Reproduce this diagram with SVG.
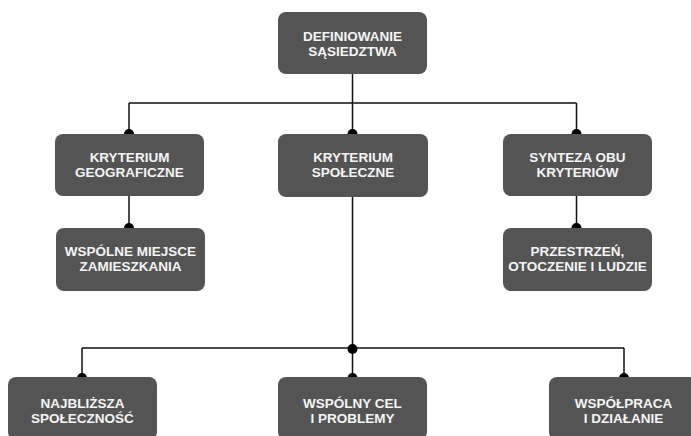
<svg xmlns="http://www.w3.org/2000/svg" width="691" height="436" viewBox="0 0 691 436">
  <style>
    .box { fill: #545454; }
    .lbl { font-family: "Liberation Sans", Arial, sans-serif; font-weight: bold; font-size: 13.5px; fill: #f4f4f4; text-anchor: middle; }
    .wire { fill: none; stroke: #111; stroke-width: 1.5; }
    .dot { fill: #000; }
  </style>
  <rect width="691" height="436" fill="#ffffff"/>

  <!-- connectors -->
  <g id="connectors">
    <path class="wire" d="M352.5 74 V103 M129 103 H576.5 M129 103 V134 M352.5 103 V134 M576.5 103 V134"/>
    <path class="wire" d="M129 196 V228 M576.5 196 V228"/>
    <path class="wire" d="M352.5 197 V378 M82 348 H624 M82 348 V378 M624 348 V378"/>
    <circle class="dot" cx="129" cy="134" r="5"/>
    <circle class="dot" cx="352.5" cy="134" r="5"/>
    <circle class="dot" cx="576.5" cy="134" r="5"/>
    <circle class="dot" cx="129" cy="228" r="5"/>
    <circle class="dot" cx="576.5" cy="228" r="5"/>
    <circle class="dot" cx="352.5" cy="349" r="5"/>
    <circle class="dot" cx="82" cy="378" r="5"/>
    <circle class="dot" cx="352.5" cy="378" r="5"/>
    <circle class="dot" cx="624" cy="378" r="5"/>
  </g>

  <g id="definiowanie">
    <rect class="box" x="278" y="12" width="149" height="62" rx="8"/>
    <text class="lbl" x="352.5" y="41">DEFINIOWANIE</text>
    <text class="lbl" x="352.5" y="56">SĄSIEDZTWA</text>
  </g>

  <g id="kryterium-geograficzne">
    <rect class="box" x="55" y="134" width="149" height="62" rx="8"/>
    <text class="lbl" x="129.5" y="162">KRYTERIUM</text>
    <text class="lbl" x="129.5" y="177">GEOGRAFICZNE</text>
  </g>

  <g id="kryterium-spoleczne">
    <rect class="box" x="278" y="134" width="150" height="63" rx="8"/>
    <text class="lbl" x="353" y="162">KRYTERIUM</text>
    <text class="lbl" x="353" y="177">SPOŁECZNE</text>
  </g>

  <g id="synteza">
    <rect class="box" x="503" y="134" width="149" height="62" rx="8"/>
    <text class="lbl" x="577.5" y="162">SYNTEZA OBU</text>
    <text class="lbl" x="577.5" y="177">KRYTERIÓW</text>
  </g>

  <g id="wspolne-miejsce">
    <rect class="box" x="56" y="228" width="149" height="63" rx="8"/>
    <text class="lbl" x="130.5" y="256">WSPÓLNE MIEJSCE</text>
    <text class="lbl" x="130.5" y="271">ZAMIESZKANIA</text>
  </g>

  <g id="przestrzen">
    <rect class="box" x="503" y="228" width="149" height="63" rx="8"/>
    <text class="lbl" x="577.5" y="256">PRZESTRZEŃ,</text>
    <text class="lbl" x="577.5" y="271">OTOCZENIE I LUDZIE</text>
  </g>

  <g id="najblizsza">
    <rect class="box" x="8" y="377" width="149" height="63" rx="8"/>
    <text class="lbl" x="82.5" y="408">NAJBLIŻSZA</text>
    <text class="lbl" x="82.5" y="423">SPOŁECZNOŚĆ</text>
  </g>

  <g id="wspolny-cel">
    <rect class="box" x="278" y="377" width="149" height="63" rx="8"/>
    <text class="lbl" x="352.5" y="408">WSPÓLNY CEL</text>
    <text class="lbl" x="352.5" y="423">I PROBLEMY</text>
  </g>

  <g id="wspolpraca">
    <rect class="box" x="549" y="377" width="149" height="63" rx="8"/>
    <text class="lbl" x="623.5" y="408">WSPÓŁPRACA</text>
    <text class="lbl" x="623.5" y="423">I DZIAŁANIE</text>
  </g>
</svg>
